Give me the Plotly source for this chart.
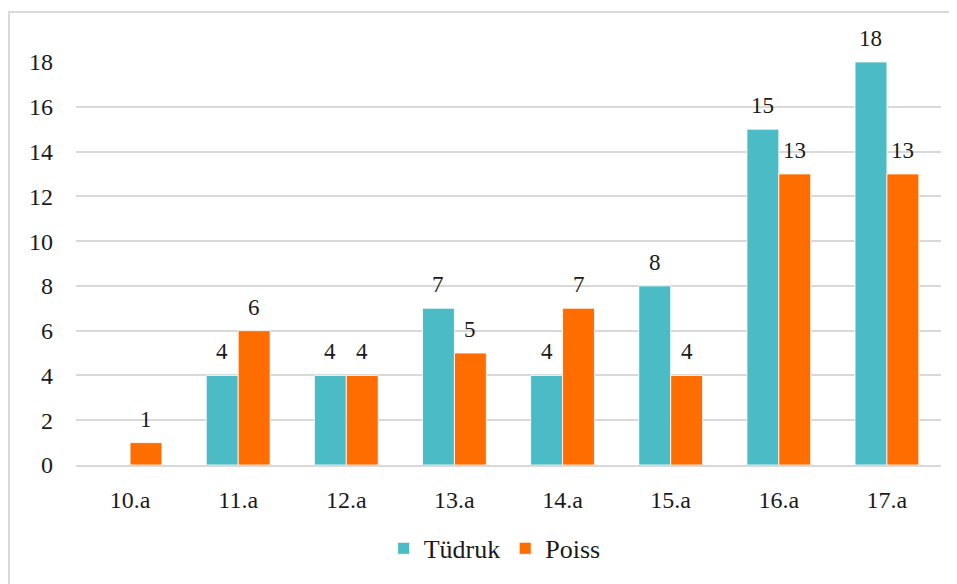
import plotly.graph_objects as go

categories = ["10.a", "11.a", "12.a", "13.a", "14.a", "15.a", "16.a", "17.a"]
tudruk = [None, 4, 4, 7, 4, 8, 15, 18]
poiss = [1, 6, 4, 5, 7, 4, 13, 13]
y_ticks = [0, 2, 4, 6, 8, 10, 12, 14, 16, 18]

FONT = "Liberation Serif"
TEAL = "#4BBCC6"
ORANGE = "#FF6D00"

ML, MR, MT, MB = 68, 24, 54, 127
W, H = 957, 584
PW = W - ML - MR
PH = H - MT - MB
BARGAP = 0.41
half_bar_px = PW / len(categories) * (1 - BARGAP) / 4

fig = go.Figure()
fig.add_trace(go.Bar(
    name="Tüdruk", x=categories, y=tudruk,
    marker=dict(color=TEAL, line=dict(color="white", width=0.8)),
))
fig.add_trace(go.Bar(
    name="Poiss", x=categories, y=poiss,
    marker=dict(color=ORANGE, line=dict(color="white", width=0.8)),
))

annotations = []
for series, shift in ((tudruk, -half_bar_px), (poiss, half_bar_px)):
    for cat, v in zip(categories, series):
        if v is None:
            continue
        annotations.append(dict(
            x=cat, y=v, xref="x", yref="y", text=str(v), showarrow=False,
            xanchor="center", yanchor="bottom", xshift=shift, yshift=9,
            font=dict(family=FONT, size=23, color="#1a1a1a"),
        ))

fig.update_layout(
    width=W, height=H,
    margin=dict(l=ML, r=MR, t=MT, b=MB),
    paper_bgcolor="white", plot_bgcolor="white",
    barmode="group", bargap=BARGAP, bargroupgap=0,
    font=dict(family=FONT, size=24, color="#1a1a1a"),
    showlegend=True,
    legend=dict(orientation="h", x=0.484, xanchor="center", y=-0.207, yanchor="middle",
                font=dict(family=FONT, size=26, color="#1a1a1a"),
                itemwidth=30, traceorder="normal"),
    xaxis=dict(showgrid=False, showline=True, linecolor="#D9D9D9", linewidth=2,
               ticks="", tickfont=dict(family=FONT, size=24), ticklabelstandoff=12),
    yaxis=dict(range=[0, 18], tickvals=y_ticks, showgrid=True, gridcolor="#D9D9D9",
               gridwidth=1.5, zeroline=False, showline=False, ticks="",
               tickfont=dict(family=FONT, size=24), ticklabelstandoff=22),
    annotations=annotations,
    shapes=[dict(type="rect", xref="paper", yref="paper",
                 x0=-(ML - 1) / PW, x1=1 + (MR + 20) / PW,
                 y0=-(MB + 20) / PH, y1=1 + (MT - 4) / PH,
                 line=dict(color="#D9D9D9", width=2), fillcolor="rgba(0,0,0,0)")],
)

fig.write_html("out.html")
